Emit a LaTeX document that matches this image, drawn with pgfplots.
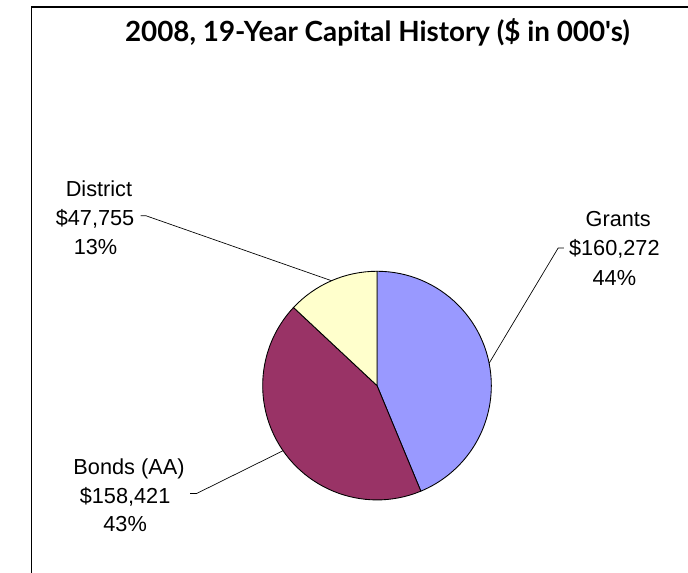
\documentclass[border=0pt]{standalone}
\usepackage{pgfplots}
\usepackage{pgfplotstable}
\usepackage{fontspec}
\pgfplotsset{compat=1.18}
\setmainfont{Liberation Sans}
\newfontfamily\titlefont{Lato}
\definecolor{grantsc}{HTML}{9999FF}
\definecolor{bondsc}{HTML}{993366}
\definecolor{districtc}{HTML}{FFFFCC}

% capital sources, $ in 000's
\pgfplotstableread{
name value
Grants 160272
Bonds 158421
District 47755
}\piedata

\begin{document}
\pgfplotstablegetelem{0}{value}\of\piedata\let\vGrants\pgfplotsretval
\pgfplotstablegetelem{1}{value}\of\piedata\let\vBonds\pgfplotsretval
\pgfplotstablegetelem{2}{value}\of\piedata\let\vDistrict\pgfplotsretval
\edef\vTotal{\fpeval{\vGrants+\vBonds+\vDistrict}}
% slice angles, clockwise from 12 o'clock
\edef\aA{90}
\edef\aB{\fpeval{\aA-360*\vGrants/\vTotal}}
\edef\aC{\fpeval{\aB-360*\vBonds/\vTotal}}
\edef\aD{\fpeval{\aC-360*\vDistrict/\vTotal}}
\edef\mA{\fpeval{(\aA+\aB)/2}}
\edef\mB{\fpeval{(\aB+\aC)/2}}
\edef\mC{\fpeval{(\aC+\aD)/2}}
\begin{tikzpicture}
\begin{axis}[
    width=688bp, height=591bp, scale only axis,
    xmin=0, xmax=688, ymin=0, ymax=591,
    hide axis, clip=false,
]
\coordinate (bl) at (rel axis cs:0,0);
\coordinate (tr) at (rel axis cs:1,1);
% chart frame
\draw[line width=1.3bp] (axis cs:10.3,-5) -- (axis cs:10.3,583.7) -- (axis cs:700,583.7);
% title
\node[anchor=base, inner sep=0pt, font=\titlefont\bfseries\fontsize{28}{32}\selectfont]
    at (axis cs:367.5,548.3) {\resizebox{521bp}{!}{2008, 19-Year Capital History (\$ in 000's)}};
% slices
\filldraw[fill=grantsc, draw=black, line width=0.9bp]
    (axis cs:367,193) -- ++(\aA:118bp) arc[start angle=\aA, end angle=\aB, radius=118bp] -- cycle;
\filldraw[fill=bondsc, draw=black, line width=0.9bp]
    (axis cs:367,193) -- ++(\aB:118bp) arc[start angle=\aB, end angle=\aC, radius=118bp] -- cycle;
\filldraw[fill=districtc, draw=black, line width=0.9bp]
    (axis cs:367,193) -- ++(\aC:118bp) arc[start angle=\aC, end angle=\aD, radius=118bp] -- cycle;
% leader lines
\draw[line width=0.7bp] (axis cs:367,193) ++(\mA:118bp) -- (axis cs:554,335) -- (axis cs:560,335);
\draw[line width=0.7bp] (axis cs:367,193) ++(\mB:118bp) -- (axis cs:181,81.7) -- (axis cs:174,81.7);
\draw[line width=0.7bp] (axis cs:367,193) ++(\mC:118bp) -- (axis cs:128.5,368.3) -- (axis cs:123,368.3);
% labels
\tikzset{lbl/.style={anchor=base, font=\fontsize{22.5}{27}\selectfont}}
\node[lbl] at (axis cs:616,356.7) {Grants};
\node[lbl] at (axis cs:612,327) {\$160,272};
\node[lbl] at (axis cs:612,296) {44\%};
\node[lbl] at (axis cs:111,101) {Bonds (AA)};
\node[lbl] at (axis cs:107,71.7) {\$158,421};
\node[lbl] at (axis cs:107,42.7) {43\%};
\node[lbl] at (axis cs:80,387.7) {District};
\node[lbl] at (axis cs:76,358) {\$47,755};
\node[lbl] at (axis cs:76.5,328.3) {13\%};
\end{axis}
\pgfresetboundingbox
\useasboundingbox (bl) rectangle (tr);
\end{tikzpicture}
\end{document}
